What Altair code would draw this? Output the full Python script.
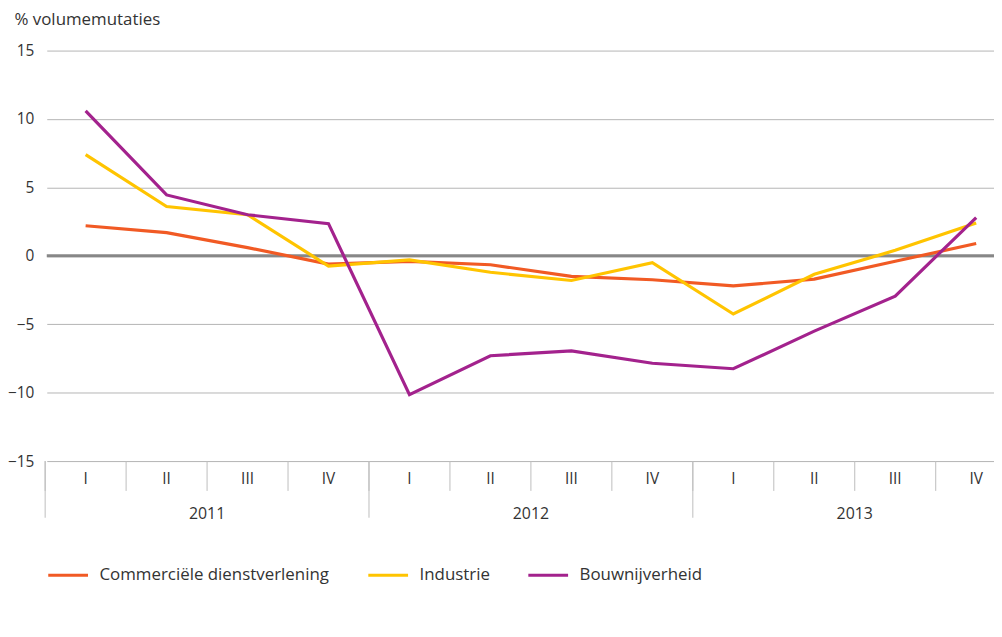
import altair as alt
import pandas as pd

# ---- data ----
quarters = ["I", "II", "III", "IV"] * 3
years = ["2011", "2012", "2013"]
series_names = ["Commerciële dienstverlening", "Industrie", "Bouwnijverheid"]
series_colors = ["#F15A24", "#FFC400", "#A3228D"]

commerciele = [2.2, 1.7, 0.6, -0.6, -0.4, -0.65, -1.5, -1.75, -2.2, -1.7, -0.4, 0.9]
industrie = [7.4, 3.6, 3.0, -0.75, -0.3, -1.2, -1.8, -0.5, -4.25, -1.35, 0.4, 2.4]
bouwnijverheid = [10.6, 4.45, 3.0, 2.35, -10.15, -7.3, -6.95, -7.85, -8.25, -5.5, -2.95, 2.8]

y_ticks = [-15, -10, -5, 0, 5, 10, 15]

# ---- tables ----
idx = list(range(len(quarters)))
rows = []
for name, vals in zip(series_names, [commerciele, industrie, bouwnijverheid]):
    for i, v in zip(idx, vals):
        rows.append({"idx": i, "series": name, "value": v})
df = pd.DataFrame(rows)

df_q = pd.DataFrame({"idx": idx, "label": quarters})
df_y = pd.DataFrame({"pos": [1.5, 5.5, 9.5], "label": years})
df_qsep = pd.DataFrame({"pos": [i - 0.5 for i in idx]})
df_ysep = pd.DataFrame({"pos": [-0.5, 3.5, 7.5]})
df_zero = pd.DataFrame({"value": [0]})

W, H = 953, 413
FONT = "Open Sans"
TXT = "#333333"

x_scale = alt.Scale(domain=[-0.48, 11.22], nice=False, zero=False)
y_scale = alt.Scale(domain=[-15, 15], nice=False)

y_axis = alt.Axis(
    values=y_ticks,
    grid=True,
    gridColor="#b4b4b4",
    domain=False,
    ticks=False,
    labelPadding=13,
    labelFontSize=15.5,
    labelFont=FONT,
    labelColor=TXT,
    title="% volumemutaties",
    titleAngle=0,
    titleAlign="left",
    titleX=-33,
    titleY=-22,
    titleFontSize=17,
    titleFontWeight="normal",
    titleFont=FONT,
    titleColor=TXT,
)

zero_rule = alt.Chart(df_zero).mark_rule(color="#878787", strokeWidth=3).encode(
    y=alt.Y("value:Q", scale=y_scale, axis=y_axis)
)

lines = alt.Chart(df).mark_line(strokeWidth=3.2).encode(
    x=alt.X("idx:Q", scale=x_scale, axis=None),
    y=alt.Y("value:Q", scale=y_scale, axis=y_axis),
    color=alt.Color(
        "series:N",
        scale=alt.Scale(domain=series_names, range=series_colors),
        legend=alt.Legend(
            title=None,
            orient="none",
            legendX=0,
            legendY=506,
            direction="horizontal",
            symbolType="stroke",
            symbolSize=1600,
            symbolStrokeWidth=3,
            labelFontSize=17,
            labelFont=FONT,
            labelColor=TXT,
            labelOffset=10,
            labelLimit=0,
            columnPadding=32,
        ),
    ),
)

qsep = alt.Chart(df_qsep).mark_rule(color="#bdbdbd", strokeWidth=1).encode(
    x=alt.X("pos:Q", scale=x_scale, axis=None), y=alt.value(H), y2=alt.value(H + 30)
)
ysep = alt.Chart(df_ysep).mark_rule(color="#bdbdbd", strokeWidth=1).encode(
    x=alt.X("pos:Q", scale=x_scale, axis=None), y=alt.value(H), y2=alt.value(H + 57)
)
qlab = alt.Chart(df_q).mark_text(fontSize=15.5, font=FONT, color=TXT, baseline="middle").encode(
    x=alt.X("idx:Q", scale=x_scale, axis=None), y=alt.value(H + 18), text="label:N"
)
ylab = alt.Chart(df_y).mark_text(fontSize=16, font=FONT, color=TXT, baseline="middle").encode(
    x=alt.X("pos:Q", scale=x_scale, axis=None), y=alt.value(H + 53), text="label:N"
)

chart = (
    alt.layer(zero_rule, qsep, ysep, lines, qlab, ylab)
    .properties(
        width=W,
        height=H,
        autosize=alt.AutoSizeParams(type="none"),
        padding={"left": 39, "top": 41, "right": 0, "bottom": 150},
    )
    .configure_view(stroke=None)
)

chart.save("out.html", embed_options={"renderer": "svg", "actions": False})
